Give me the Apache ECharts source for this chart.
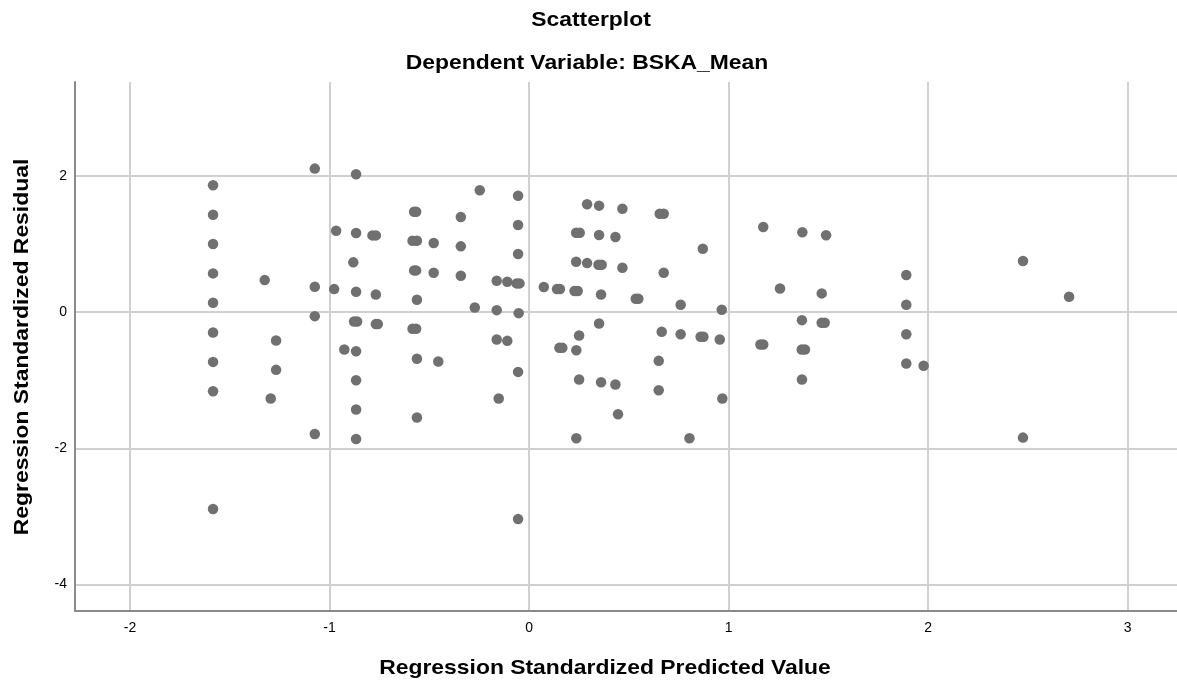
<!DOCTYPE html>
<html>
<head>
<meta charset="utf-8">
<script src="https://cdn.jsdelivr.net/npm/echarts@6/dist/echarts.min.js"></script>
<style>
html,body{margin:0;padding:0;background:#fff;}
#chart{width:1177px;height:682px;}
</style>
</head>
<body>
<div id="chart"></div>
<script>
const titleText = 'Scatterplot';
const subtitleText = 'Dependent Variable: BSKA_Mean';
const xName = 'Regression Standardized Predicted Value';
const yName = 'Regression Standardized Residual';
const xTicks = [-2, -1, 0, 1, 2, 3];
const yTicks = [-4, -2, 0, 2];

const predicted = [
  -1.584, -1.584, -1.584, -1.584, -1.584, -1.584, -1.584, -1.584, -1.584,
  -1.325, -1.268, -1.268, -1.295,
  -1.074, -1.074, -1.074, -1.074,
  -0.967, -0.977, -0.926,
  -0.867, -0.867, -0.881, -0.867, -0.877, -0.862, -0.867, -0.867, -0.867, -0.867,
  -0.785, -0.768, -0.768, -0.768, -0.758,
  -0.576, -0.566, -0.584, -0.562, -0.576, -0.566, -0.562, -0.584, -0.566, -0.562, -0.562,
  -0.478, -0.478, -0.455,
  -0.342, -0.342, -0.342, -0.247, -0.272,
  -0.162, -0.109, -0.062, -0.048, -0.162,
  -0.055, -0.055, -0.055, -0.052,
  -0.162, -0.109, -0.152, -0.055, -0.055,
  0.074, 0.140, 0.155, 0.228, 0.244, 0.361, 0.535, 0.548, 0.760, 0.966,
  0.291, 0.351, 0.468, 0.655, 0.675,
  0.236, 0.254, 0.351, 0.433, 0.871,
  0.236, 0.291, 0.348, 0.364, 0.468, 0.675,
  1.174, 1.370, 1.489, 1.258, 1.467,
  1.368, 1.467, 1.482, 1.160, 1.174, 1.367, 1.383,
  0.351, 0.251, 0.152, 0.167, 0.237,
  0.665, 0.760, 0.860, 0.874, 0.956, 0.650,
  0.251, 0.361, 0.433, 0.650, 0.969, 0.446, 0.237, 0.804, 1.368,
  1.891, 1.891, 1.891, 1.891, 1.978,
  2.476, 2.707, 2.476
];
const residual = [
  1.863, 1.431, 1.000, 0.569, 0.137, -0.299, -0.731, -1.162, -2.892,
  0.470, -0.416, -0.848, -1.270,
  2.108, 0.373, -0.059, -1.790,
  1.196, 0.338, -0.549,
  2.025, 1.162, 0.731, 0.299, -0.137, -0.137, -0.574, -1.000, -1.431, -1.863,
  1.127, 1.127, 0.260, -0.176, -0.176,
  1.475, 1.475, 1.049, 1.049, 0.613, 0.613, 0.181, -0.245, -0.245, -0.686, -1.549,
  1.015, 0.578, -0.725,
  1.397, 0.966, 0.534, 1.790, 0.069,
  0.460, 0.446, 0.422, 0.422, 0.029,
  1.710, 1.279, 0.853, -0.015,
  -0.402, -0.422, -1.270, -0.878, -3.040,
  0.368, 0.338, 0.338, 0.309, 0.309, 0.260, 0.196, 0.196, 0.108, 0.034,
  1.584, 1.564, 1.519, 1.446, 1.446,
  1.166, 1.166, 1.132, 1.103, 0.931,
  0.740, 0.720, 0.696, 0.696, 0.652, 0.578,
  1.250, 1.172, 1.128, 0.348, 0.275,
  -0.118, -0.157, -0.157, -0.475, -0.475, -0.549, -0.549,
  -0.167, -0.343, -0.525, -0.525, -0.559,
  -0.289, -0.324, -0.363, -0.363, -0.402, -0.716,
  -0.990, -1.029, -1.064, -1.147, -1.270, -1.500, -1.853, -1.853, -0.990,
  0.544, 0.108, -0.324, -0.755, -0.789,
  0.750, 0.226, -1.843
];

const points = predicted.map((x, i) => [x, residual[i]]);

const chart = echarts.init(document.getElementById('chart'));
const FONT = "'Liberation Sans', Arial, sans-serif";
const BIG = 'bold 21px ' + FONT;
const SX = 1.09;
function label(text, x, y, rot) {
  return { type: 'text', x: x, y: y, rotation: rot || 0, scaleX: SX, scaleY: 1,
    style: { text: text, textAlign: 'center', textVerticalAlign: 'middle', font: BIG, fill: '#000' } };
}
chart.setOption({
  animation: false,
  backgroundColor: '#ffffff',
  grid: { left: 75, right: 0, top: 82, bottom: 71 },
  graphic: [
    label(titleText, 591, 20),
    label(subtitleText, 587, 63),
    label(xName, 605, 668),
    label(yName, 22, 347, Math.PI / 2)
  ],
  xAxis: {
    type: 'value',
    min: -2.276,
    max: 3.248,
    axisLine: { show: true, onZero: false, lineStyle: { color: '#8a8a8a', width: 2 } },
    axisTick: { show: false, customValues: xTicks },
    axisLabel: { customValues: xTicks, color: '#000', fontSize: 14, fontFamily: FONT, margin: 10 },
    splitLine: { show: true, lineStyle: { color: '#d0d0d0', width: 2 } }
  },
  yAxis: {
    type: 'value',
    min: -4.39,
    max: 3.38,
    axisLine: { show: true, onZero: false, lineStyle: { color: '#8a8a8a', width: 2 } },
    axisTick: { show: false, customValues: yTicks },
    axisLabel: { customValues: yTicks, color: '#000', fontSize: 14, fontFamily: FONT, margin: 8 },
    splitLine: { show: true, lineStyle: { color: '#d0d0d0', width: 2 } }
  },
  series: [{
    type: 'scatter',
    data: points,
    symbol: 'circle',
    symbolSize: 10.5,
    itemStyle: { color: '#707070', opacity: 1 }
  }]
});
</script>
</body>
</html>
